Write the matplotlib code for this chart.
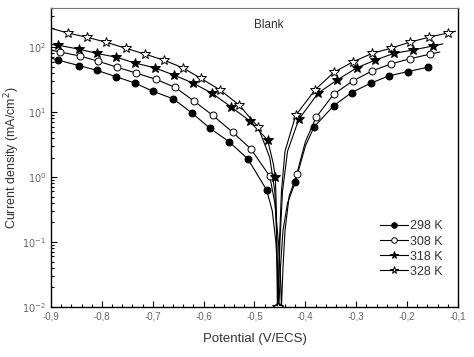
import numpy as np
import matplotlib
matplotlib.use('Agg')
import matplotlib.pyplot as plt
import matplotlib.ticker as ticker

plt.rcParams['font.family'] = ['Liberation Sans', 'DejaVu Sans']
plt.rcParams['axes.unicode_minus'] = False

# potential (V/ECS), current density (mA/cm2), 1 = marker drawn on that point
E_298 = [-0.9, -0.886, -0.845, -0.81, -0.772, -0.735, -0.70, -0.66, -0.623, -0.587, -0.55, -0.513, -0.476,
         -0.465, -0.458, -0.454, -0.452, -0.449, -0.444, -0.435, -0.42, -0.40, -0.383, -0.344, -0.309,
         -0.271, -0.236, -0.199, -0.159]
i_298 = [68, 63, 52, 44, 35, 28, 21, 16, 9.7, 5.6, 3.5, 1.9, 0.63,
         0.3, 0.1, 0.03, 0.01, 0.04, 0.15, 0.4, 0.83, 3.0, 5.9, 12.6, 20,
         28, 36, 42, 49]
m_298 = [0, 1, 1, 1, 1, 1, 1, 1, 1, 1, 1, 1, 1,
         0, 0, 0, 1, 0, 0, 0, 1, 0, 1, 1, 1,
         1, 1, 1, 1]

E_308 = [-0.9, -0.882, -0.843, -0.808, -0.77, -0.733, -0.694, -0.656, -0.619, -0.582, -0.543, -0.507, -0.47,
         -0.46, -0.453, -0.449, -0.447, -0.444, -0.44, -0.432, -0.417, -0.40, -0.379, -0.344, -0.307,
         -0.269, -0.232, -0.195, -0.155, -0.136]
i_308 = [90, 84, 73, 61, 49, 40, 32, 24, 14.8, 8.9, 4.9, 2.7, 1.03,
         0.4, 0.1, 0.03, 0.01, 0.04, 0.15, 0.5, 1.1, 3.5, 8.3, 19, 30,
         43, 55, 66, 78, 84]
m_308 = [0, 1, 1, 1, 1, 1, 1, 1, 1, 1, 1, 1, 1,
         0, 0, 0, 0, 0, 0, 0, 1, 0, 1, 1, 1,
         1, 1, 1, 1, 0]

E_318 = [-0.9, -0.886, -0.845, -0.81, -0.772, -0.735, -0.696, -0.658, -0.621, -0.584, -0.546, -0.509, -0.474,
         -0.463, -0.459, -0.457, -0.455, -0.452, -0.45, -0.445, -0.435, -0.413, -0.375, -0.338, -0.299,
         -0.263, -0.226, -0.189, -0.15, -0.13]
i_318 = [110, 107, 93, 80, 70, 57, 48, 37, 28, 19.6, 12, 7.3, 3.7,
         1.6, 1.0, 0.3, 0.01, 0.03, 0.1, 0.6, 2.5, 7.7, 19.6, 31, 48,
         63, 80, 90, 104, 112]
m_318 = [0, 1, 1, 1, 1, 1, 1, 1, 1, 1, 1, 1, 1,
         0, 1, 0, 1, 0, 0, 0, 0, 1, 1, 1, 1,
         1, 1, 1, 1, 0]

E_328 = [-0.9, -0.866, -0.829, -0.792, -0.753, -0.715, -0.678, -0.641, -0.605, -0.568, -0.531, -0.493,
         -0.47, -0.46, -0.456, -0.454, -0.451, -0.447, -0.44, -0.419, -0.381, -0.344, -0.307,
         -0.269, -0.232, -0.195, -0.157, -0.12, -0.105]
i_328 = [195, 164, 142, 119, 96, 78, 63, 48, 33, 22, 13, 5.9,
         2.0, 0.6, 0.1, 0.01, 0.1, 0.6, 2.5, 8.9, 22, 41, 59,
         80, 96, 119, 142, 165, 175]
m_328 = [0, 1, 1, 1, 1, 1, 1, 1, 1, 1, 1, 1,
         0, 0, 0, 1, 0, 0, 0, 1, 1, 1, 1,
         1, 1, 1, 1, 1, 0]

labels = ['298 K', '308 K', '318 K', '328 K']
xticks = [-0.9, -0.8, -0.7, -0.6, -0.5, -0.4, -0.3, -0.2, -0.1]

series = [(E_298, i_298, m_298, 'o', 'k', 5),
          (E_308, i_308, m_308, 'o', 'w', 5),
          (E_318, i_318, m_318, '*', 'k', 7),
          (E_328, i_328, m_328, '*', 'w', 7)]

fig = plt.figure(figsize=(4.74, 3.57), dpi=100)
ax = fig.add_axes([0.1076, 0.14, 0.8586, 0.8376])

for (E, i, m, mk, fc, ms), lab in zip(series, labels):
    ax.plot(E, i, color='k', lw=0.8, marker=mk, mfc=fc, mec='k', mew=0.7, ms=ms,
            markevery=[bool(v) for v in m], label=lab)

ax.set_yscale('log')
ax.set_xlim(-0.9, -0.1)
ax.set_ylim(1e-2, 400)
ax.set_xticks(xticks)
ax.xaxis.set_minor_locator(ticker.MultipleLocator(0.02))
ax.xaxis.set_major_formatter(ticker.FuncFormatter(lambda x, _: f'{x:.1f}'.replace('.', ',')))
ax.yaxis.set_major_locator(ticker.LogLocator(base=10, numticks=10))
ax.yaxis.set_major_formatter(ticker.FuncFormatter(lambda y, _: r'$10^{%d}$' % round(np.log10(y))))

ax.tick_params(which='both', direction='in', top=False, right=False, labelsize=7, labelcolor='#666666')
ax.tick_params(which='major', length=4, width=0.8)
ax.tick_params(which='minor', length=2.5, width=0.8)
ax.spines['top'].set_color('#777777')
for s in ['left', 'bottom', 'right']:
    ax.spines[s].set_linewidth(1.0)

ax.set_xlabel('Potential (V/ECS)', fontsize=9.5, color='#333333', labelpad=8)
ax.set_ylabel('Current density (mA/cm$^{2}$)', fontsize=9, color='#333333')
ax.yaxis.set_label_coords(-0.072, 0.5)
ax.text(0.536, 0.943, 'Blank', transform=ax.transAxes, ha='center', va='center',
        fontsize=8.5, color='#333333')

leg = ax.legend(loc='lower right', bbox_to_anchor=(0.99, 0.06), frameon=False, fontsize=9,
                handlelength=2.2, handletextpad=0.2, labelspacing=0.25, markerscale=0.8)
for t in leg.get_texts():
    t.set_color('#333333')

fig.savefig('out.png', dpi=100)
